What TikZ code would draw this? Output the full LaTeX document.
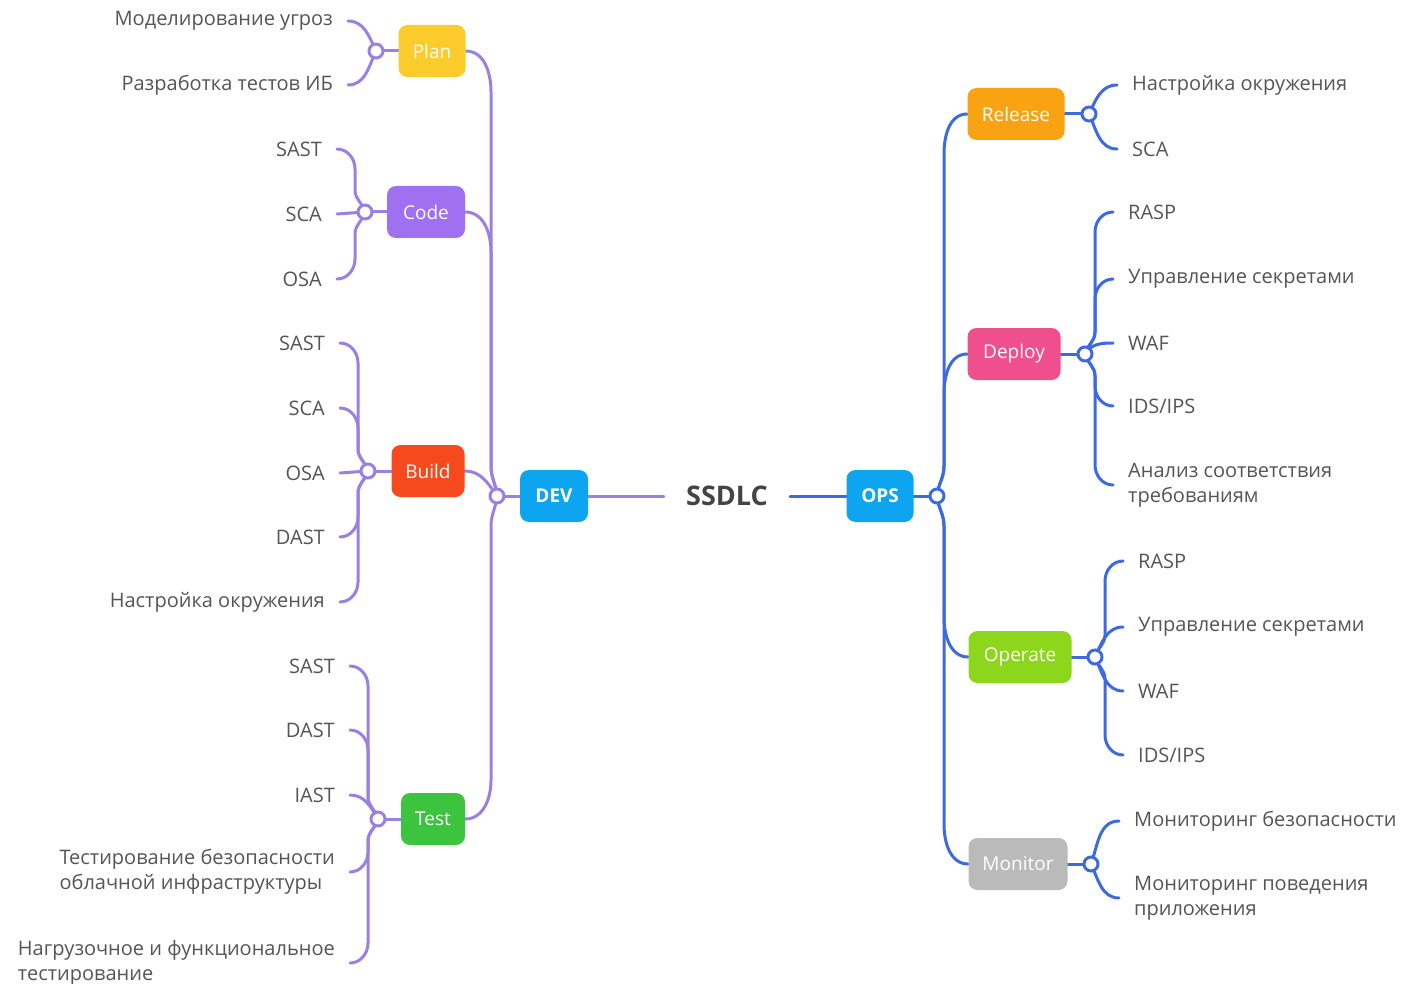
\documentclass[tikz,border=0pt]{standalone}
\usepackage{fontspec}
\setmainfont{Open Sans}
\usetikzlibrary{calc}
\definecolor{lcol}{HTML}{9B80E4}
\definecolor{rcol}{HTML}{3D6AE0}
\definecolor{tgray}{HTML}{555555}
\definecolor{cplan}{HTML}{FCCB2C}
\definecolor{ccode}{HTML}{9F70F0}
\definecolor{cbuild}{HTML}{F7491E}
\definecolor{ctest}{HTML}{3DC43F}
\definecolor{cdev}{HTML}{0EA5F0}
\definecolor{crel}{HTML}{FAA312}
\definecolor{cdep}{HTML}{F04F8D}
\definecolor{cop}{HTML}{8CD61B}
\definecolor{cmon}{HTML}{BABABA}
\definecolor{ctitle}{HTML}{444444}
\pgfdeclarelayer{bg}
\pgfdeclarelayer{paper}
\pgfsetlayers{paper,bg,main}
% left leaves: up / down / direct / straight
\newcommand\legLU[2]{\draw[lline] (#1.center) to[out=105,in=-90] ($(#1.center)+(-10,22)$) -- ($(#2.east)+(18,-20)$) to[out=90,in=0] (#2.east);}
\newcommand\legLD[2]{\draw[lline] (#1.center) to[out=-105,in=90] ($(#1.center)+(-10,-22)$) -- ($(#2.east)+(18,20)$) to[out=-90,in=0] (#2.east);}
\newcommand\legLS[3]{\draw[lline] (#1.center) to[out=#3,in=0] (#2.east);}
\newcommand\legRU[2]{\draw[rline] (#1.center) to[out=75,in=-90] ($(#1.center)+(10,22)$) -- ($(#2.west)+(-18,-20)$) to[out=90,in=180] (#2.west);}
\newcommand\legRD[2]{\draw[rline] (#1.center) to[out=-75,in=90] ($(#1.center)+(10,-22)$) -- ($(#2.west)+(-18,20)$) to[out=-90,in=180] (#2.west);}
\newcommand\legRS[3]{\draw[rline] (#1.center) to[out=#3,in=180] (#2.west);}
\begin{document}
\begin{tikzpicture}[x=1pt,y=1pt,
  lline/.style={draw=lcol, line width=3pt, line cap=round},
  rline/.style={draw=rcol, line width=3pt, line cap=round},
  box/.style={rounded corners=9pt, minimum height=52pt, text=white, font=\fontsize{19}{23}\selectfont, inner sep=0pt},
  leafL/.style={anchor=east, align=left, inner xsep=15pt, inner ysep=0pt, text=tgray, font=\fontsize{20}{25}\selectfont, yshift=-2pt},
  leafR/.style={anchor=west, align=left, inner xsep=15pt, inner ysep=0pt, text=tgray, font=\fontsize{20}{25}\selectfont, yshift=-2pt},
  hubL/.style={circle, draw=lcol, line width=3pt, fill=white, minimum size=14pt, inner sep=0pt},
  hubR/.style={circle, draw=rcol, line width=3pt, fill=white, minimum size=14pt, inner sep=0pt}
]
\useasboundingbox (0,0) rectangle (1407,-984);
\begin{pgfonlayer}{paper}
\fill[white] (0,0) rectangle (1407,-984);
\end{pgfonlayer}

% central
\node[text=ctitle, font=\bfseries\fontsize{27}{32}\selectfont, inner xsep=22pt] (ssdlc) at (727,-496) {SSDLC};
\node[box, fill=cdev, minimum width=68pt, font=\bfseries\fontsize{19}{23}\selectfont] (dev) at (554,-496) {DEV};
\node[box, fill=cdev, minimum width=67pt, font=\bfseries\fontsize{19}{23}\selectfont] (ops) at (880,-496) {OPS};
\node[hubL] (devhub) at (497,-496) {};
\node[hubR] (opshub) at (937,-496) {};

% left boxes
\node[box, fill=cplan, minimum width=67pt] (plan) at (432,-51) {Plan};
\node[box, fill=ccode, minimum width=78pt] (code) at (426,-212) {Code};
\node[box, fill=cbuild, minimum width=73pt] (build) at (428,-471) {Build};
\node[box, fill=ctest, minimum width=64pt] (test) at (433,-819) {Test};
\node[hubL] (planhub) at (376,-51) {};
\node[hubL] (codehub) at (365,-212) {};
\node[hubL] (buildhub) at (368,-471) {};
\node[hubL] (testhub) at (378,-819) {};

% right boxes
\node[box, fill=crel, minimum width=97pt] (release) at (1016,-114) {Release};
\node[box, fill=cdep, minimum width=93pt] (deploy) at (1014,-354) {Deploy};
\node[box, fill=cop, minimum width=103pt] (operate) at (1020,-657) {Operate};
\node[box, fill=cmon, minimum width=99pt] (monitor) at (1018,-864) {Monitor};
\node[hubR] (relhub) at (1089,-114) {};
\node[hubR] (dephub) at (1085,-354) {};
\node[hubR] (ophub) at (1095,-657) {};
\node[hubR] (monhub) at (1091,-864) {};

% left leaves
\node[leafL] (p1) at (348,-19) {Моделирование угроз};
\node[leafL] (p2) at (348,-83) {Разработка тестов ИБ};
\node[leafL] (c1) at (337,-147) {SAST};
\node[leafL] (c2) at (337,-212) {SCA};
\node[leafL] (c3) at (337,-277) {OSA};
\node[leafL] (b1) at (340,-341) {SAST};
\node[leafL] (b2) at (340,-406) {SCA};
\node[leafL] (b3) at (340,-471) {OSA};
\node[leafL] (b4) at (340,-535) {DAST};
\node[leafL] (b5) at (340,-600) {Настройка окружения};
\node[leafL] (t1) at (350,-664) {SAST};
\node[leafL] (t2) at (350,-728) {DAST};
\node[leafL] (t3) at (350,-793) {IAST};
\node[leafL] (t4) at (350,-870) {Тестирование безопасности\\облачной инфраструктуры};
\node[leafL] (t5) at (350,-961) {Нагрузочное и функциональное\\тестирование};

% right leaves
\node[leafR] (r1) at (1117,-83) {Настройка окружения};
\node[leafR] (r2) at (1117,-147) {SCA};
\node[leafR] (d1) at (1113,-210) {RASP};
\node[leafR] (d2) at (1113,-277) {Управление секретами};
\node[leafR] (d3) at (1113,-341) {WAF};
\node[leafR] (d4) at (1113,-404) {IDS/IPS};
\node[leafR] (d5) at (1113,-483) {Анализ соответствия\\требованиям};
\node[leafR] (o1) at (1123,-559) {RASP};
\node[leafR] (o2) at (1123,-625) {Управление секретами};
\node[leafR] (o3) at (1123,-689) {WAF};
\node[leafR] (o4) at (1123,-753) {IDS/IPS};
\node[leafR] (m1) at (1119,-819) {Мониторинг безопасности};
\node[leafR] (m2) at (1119,-896) {Мониторинг поведения\\приложения};

\begin{pgfonlayer}{bg}
% spine
\draw[lline] (dev.east) -- (ssdlc.west);
\draw[rline] (ssdlc.east) -- (ops.west);
\draw[lline] (dev.west) -- (devhub.center);
\draw[rline] (ops.east) -- (opshub.center);
% DEV branches
\draw[lline] (devhub.center) to[out=95,in=-90] (491,-466) -- (491,-92) to[out=90,in=0] (plan.east);
\draw[lline] (devhub.center) to[out=95,in=-90] (491,-466) -- (491,-252) to[out=90,in=0] (code.east);
\draw[lline] (devhub.center) to[out=125,in=0] (build.east);
\draw[lline] (devhub.center) to[out=-95,in=90] (491,-526) -- (491,-780) to[out=-90,in=0] (test.east);
% OPS branches
\draw[rline] (opshub.center) to[out=85,in=-90] (944,-466) -- (944,-154) to[out=90,in=180] (release.west);
\draw[rline] (opshub.center) to[out=85,in=-90] (944,-466) -- (944,-394) to[out=90,in=180] (deploy.west);
\draw[rline] (opshub.center) to[out=-85,in=90] (944,-526) -- (944,-617) to[out=-90,in=180] (operate.west);
\draw[rline] (opshub.center) to[out=-85,in=90] (944,-526) -- (944,-824) to[out=-90,in=180] (monitor.west);
% box to hub
\draw[lline] (planhub.center) -- (plan.west);
\draw[lline] (codehub.center) -- (code.west);
\draw[lline] (buildhub.center) -- (build.west);
\draw[lline] (testhub.center) -- (test.west);
\draw[rline] (relhub.center) -- (release.east);
\draw[rline] (dephub.center) -- (deploy.east);
\draw[rline] (ophub.center) -- (operate.east);
\draw[rline] (monhub.center) -- (monitor.east);
% left leaves
\legLS{planhub}{p1}{115}
\legLS{planhub}{p2}{-115}
\legLU{codehub}{c1}
\draw[lline] (codehub.center) -- (c2.east);
\legLD{codehub}{c3}
\legLU{buildhub}{b1}
\legLU{buildhub}{b2}
\draw[lline] (buildhub.center) -- (b3.east);
\legLD{buildhub}{b4}
\legLD{buildhub}{b5}
\legLU{testhub}{t1}
\legLU{testhub}{t2}
\legLS{testhub}{t3}{120}
\legLD{testhub}{t4}
\legLD{testhub}{t5}
% right leaves
\legRS{relhub}{r1}{65}
\legRS{relhub}{r2}{-65}
\legRU{dephub}{d1}
\legRU{dephub}{d2}
\legRS{dephub}{d3}{60}
\legRD{dephub}{d4}
\legRD{dephub}{d5}
\legRU{ophub}{o1}
\legRS{ophub}{o2}{65}
\legRS{ophub}{o3}{-65}
\legRD{ophub}{o4}
\legRS{monhub}{m1}{70}
\legRS{monhub}{m2}{-65}
\end{pgfonlayer}
\end{tikzpicture}
\end{document}
